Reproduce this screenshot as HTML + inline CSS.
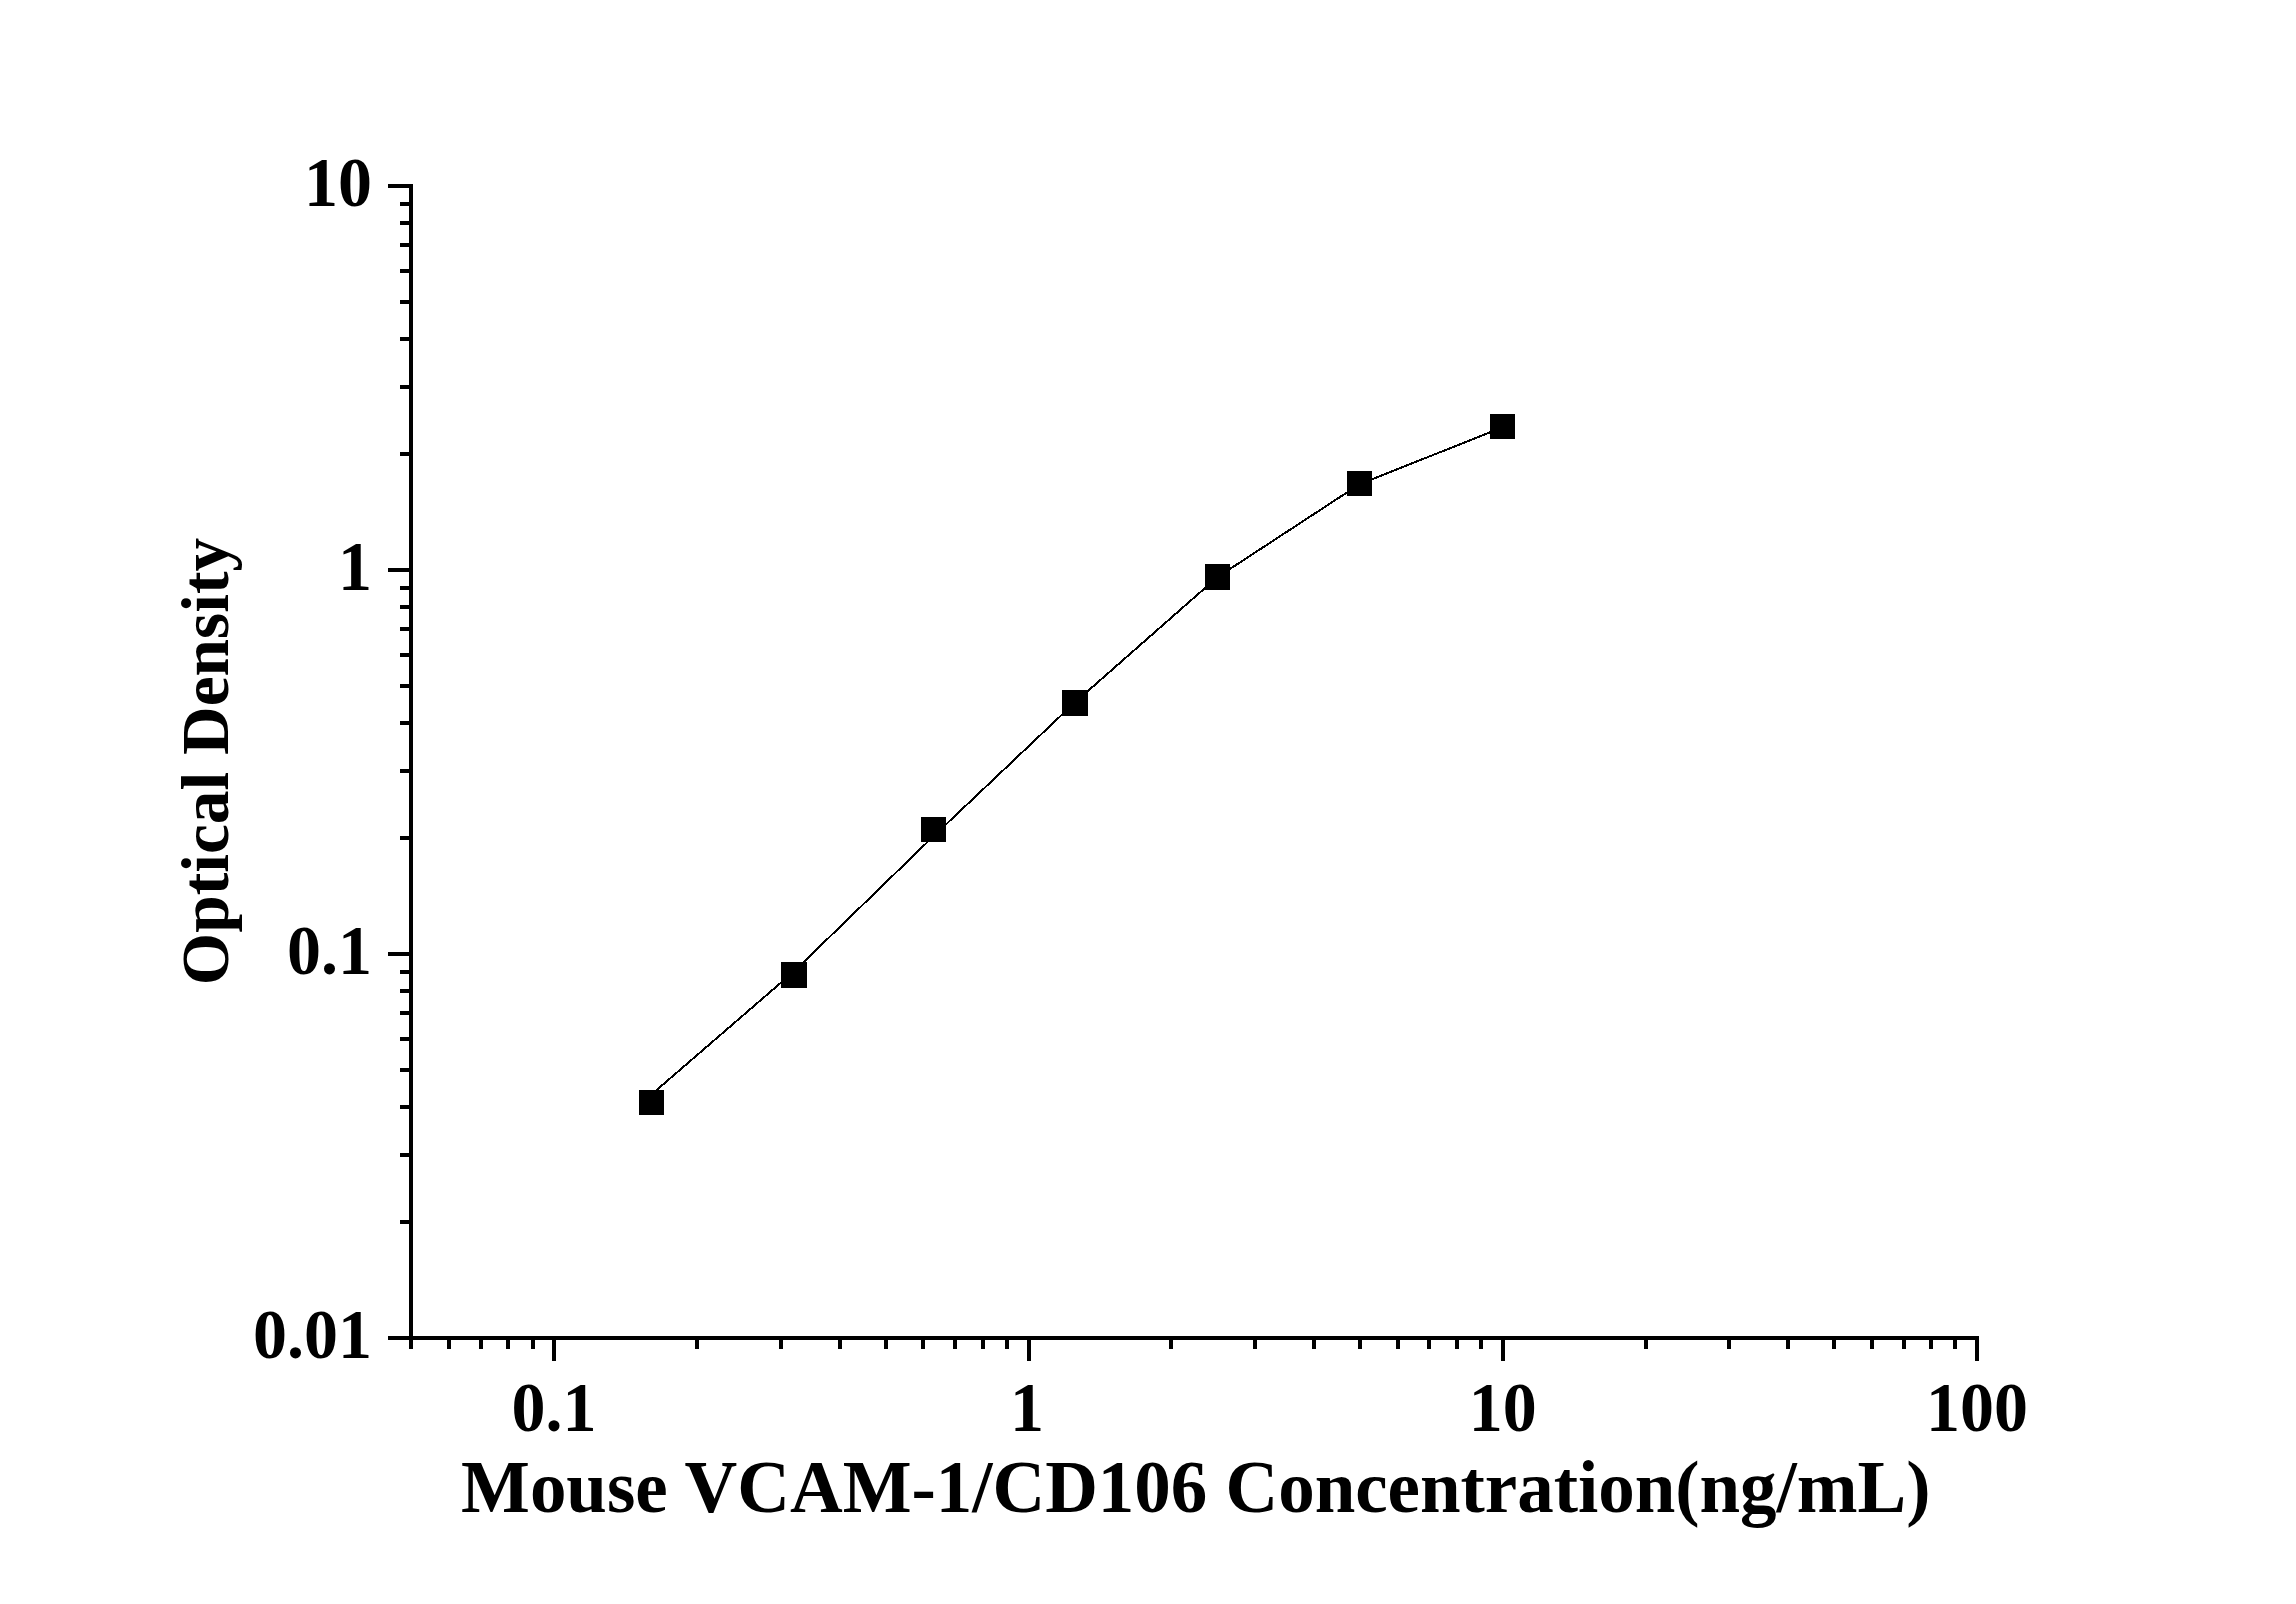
<!DOCTYPE html>
<html lang="en"><head><meta charset="utf-8"><title>Mouse VCAM-1/CD106 standard curve</title>
<style>html,body{margin:0;padding:0;background:#fff}body{width:2296px;height:1604px;overflow:hidden}svg{display:block}text{font-family:"Liberation Serif","Times New Roman",serif;font-weight:bold;fill:#000}</style></head><body>
<svg width="2296" height="1604" viewBox="0 0 2296 1604">
<rect width="2296" height="1604" fill="#fff"/>
<g fill="#000" shape-rendering="crispEdges">
<rect x="409" y="184" width="4" height="1156"/>
<rect x="409" y="1336" width="1570" height="4"/>
<rect x="388.00" y="1336.00" width="23" height="4"/>
<rect x="400.00" y="1220.40" width="11" height="4"/>
<rect x="400.00" y="1152.79" width="11" height="4"/>
<rect x="400.00" y="1104.81" width="11" height="4"/>
<rect x="400.00" y="1067.60" width="11" height="4"/>
<rect x="400.00" y="1037.19" width="11" height="4"/>
<rect x="400.00" y="1011.48" width="11" height="4"/>
<rect x="400.00" y="989.21" width="11" height="4"/>
<rect x="400.00" y="969.57" width="11" height="4"/>
<rect x="388.00" y="952.00" width="23" height="4"/>
<rect x="400.00" y="836.40" width="11" height="4"/>
<rect x="400.00" y="768.79" width="11" height="4"/>
<rect x="400.00" y="720.81" width="11" height="4"/>
<rect x="400.00" y="683.60" width="11" height="4"/>
<rect x="400.00" y="653.19" width="11" height="4"/>
<rect x="400.00" y="627.48" width="11" height="4"/>
<rect x="400.00" y="605.21" width="11" height="4"/>
<rect x="400.00" y="585.57" width="11" height="4"/>
<rect x="388.00" y="568.00" width="23" height="4"/>
<rect x="400.00" y="452.40" width="11" height="4"/>
<rect x="400.00" y="384.79" width="11" height="4"/>
<rect x="400.00" y="336.81" width="11" height="4"/>
<rect x="400.00" y="299.60" width="11" height="4"/>
<rect x="400.00" y="269.19" width="11" height="4"/>
<rect x="400.00" y="243.48" width="11" height="4"/>
<rect x="400.00" y="221.21" width="11" height="4"/>
<rect x="400.00" y="201.57" width="11" height="4"/>
<rect x="388.00" y="184.00" width="23" height="4"/>
<rect x="409.00" y="1338.00" width="4" height="11"/>
<rect x="447.20" y="1338.00" width="4" height="11"/>
<rect x="478.95" y="1338.00" width="4" height="11"/>
<rect x="506.45" y="1338.00" width="4" height="11"/>
<rect x="530.70" y="1338.00" width="4" height="11"/>
<rect x="552.40" y="1338.00" width="4" height="23"/>
<rect x="695.15" y="1338.00" width="4" height="11"/>
<rect x="778.65" y="1338.00" width="4" height="11"/>
<rect x="837.90" y="1338.00" width="4" height="11"/>
<rect x="883.85" y="1338.00" width="4" height="11"/>
<rect x="921.40" y="1338.00" width="4" height="11"/>
<rect x="953.15" y="1338.00" width="4" height="11"/>
<rect x="980.65" y="1338.00" width="4" height="11"/>
<rect x="1004.90" y="1338.00" width="4" height="11"/>
<rect x="1026.60" y="1338.00" width="4" height="23"/>
<rect x="1169.35" y="1338.00" width="4" height="11"/>
<rect x="1252.85" y="1338.00" width="4" height="11"/>
<rect x="1312.10" y="1338.00" width="4" height="11"/>
<rect x="1358.05" y="1338.00" width="4" height="11"/>
<rect x="1395.60" y="1338.00" width="4" height="11"/>
<rect x="1427.35" y="1338.00" width="4" height="11"/>
<rect x="1454.85" y="1338.00" width="4" height="11"/>
<rect x="1479.10" y="1338.00" width="4" height="11"/>
<rect x="1500.80" y="1338.00" width="4" height="23"/>
<rect x="1643.55" y="1338.00" width="4" height="11"/>
<rect x="1727.05" y="1338.00" width="4" height="11"/>
<rect x="1786.30" y="1338.00" width="4" height="11"/>
<rect x="1832.25" y="1338.00" width="4" height="11"/>
<rect x="1869.80" y="1338.00" width="4" height="11"/>
<rect x="1901.55" y="1338.00" width="4" height="11"/>
<rect x="1929.05" y="1338.00" width="4" height="11"/>
<rect x="1953.30" y="1338.00" width="4" height="11"/>
<rect x="1975.00" y="1338.00" width="4" height="23"/>
</g>
<polyline fill="none" stroke="#000" stroke-width="2" stroke-linejoin="round" shape-rendering="crispEdges" points="651.2,1094.7 794.0,971.4 933.3,836.4 1074.8,702.5 1217.2,577.3 1359.6,484.2 1502.7,427.3"/>
<g fill="#000" shape-rendering="crispEdges">
<rect x="639" y="1090" width="25" height="25"/>
<rect x="781" y="962" width="26" height="26"/>
<rect x="921" y="817" width="25" height="25"/>
<rect x="1062" y="690" width="26" height="26"/>
<rect x="1205" y="564" width="25" height="26"/>
<rect x="1347" y="471" width="25" height="25"/>
<rect x="1490" y="414" width="25" height="25"/>
</g>
<g font-size="70" text-anchor="end">
<text transform="translate(372,206.0) scale(0.9714,1)">10</text>
<text transform="translate(372,590.0) scale(0.9714,1)">1</text>
<text transform="translate(372,974.0) scale(0.9714,1)">0.1</text>
<text transform="translate(372,1358.0) scale(0.9714,1)">0.01</text>
</g>
<g font-size="70" text-anchor="middle">
<text transform="translate(553.9,1430.5) scale(0.9714,1)">0.1</text>
<text transform="translate(1027.1,1430.5) scale(0.9714,1)">1</text>
<text transform="translate(1502.8,1430.5) scale(0.9714,1)">10</text>
<text transform="translate(1977.0,1430.5) scale(0.9714,1)">100</text>
</g>
<text transform="translate(1195.8,1512) scale(0.9728,1)" font-size="75" text-anchor="middle">Mouse VCAM-1/CD106 Concentration(ng/mL)</text>
<text transform="translate(227.7,761.5) rotate(-90) scale(0.9984,1)" font-size="67.5" text-anchor="middle">Optical Density</text>
</svg></body></html>
